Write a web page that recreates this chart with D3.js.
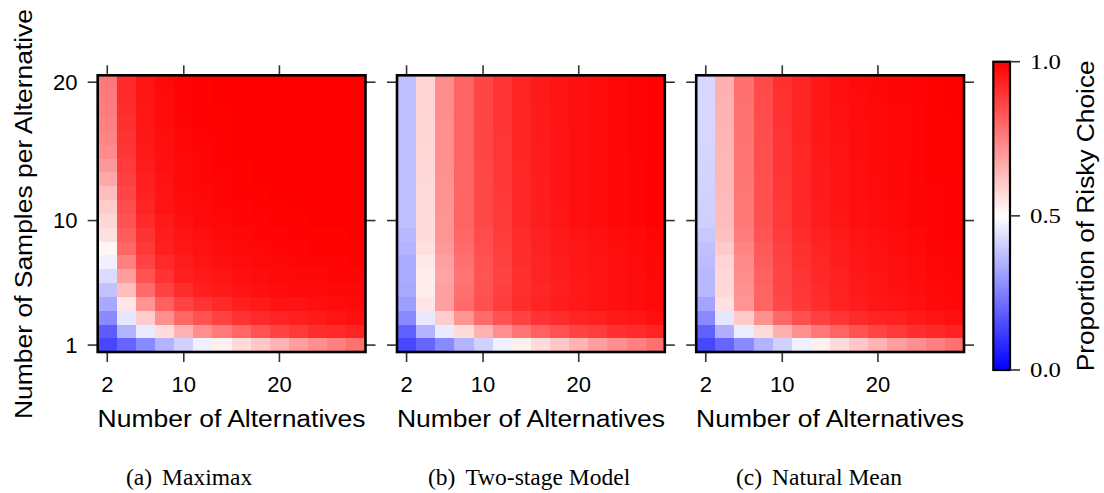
<!DOCTYPE html>
<html>
<head>
<meta charset="utf-8">
<script src="https://cdn.jsdelivr.net/npm/d3@7"></script>
<style>
  html, body { margin: 0; padding: 0; background: #fff; }
  svg { display: block; }
  .sans { font-family: "Liberation Sans", Arial, Helvetica, sans-serif; fill: #000; }
  .serif { font-family: "Liberation Serif", "Times New Roman", serif; fill: #000; }
</style>
</head>
<body>
<svg id="chart" width="1104" height="493"></svg>
<script>
// ---------------- data ----------------
const alternatives = [2, 4, 6, 8, 10, 12, 14, 16, 18, 20, 22, 24, 26, 28];
const samples = [1, 2, 3, 4, 5, 6, 7, 8, 9, 10, 11, 12, 13, 14, 15, 16, 17, 18, 19, 20];
const xTicks = [2, 10, 20];
const yTicks = [1, 10, 20];
const colorTicks = [0.0, 0.5, 1.0];
const colorTickLabels = ["0.0", "0.5", "1.0"];
const captionTags = ["(a)", "(b)", "(c)"];
const captionNames = ["Maximax", "Two-stage Model", "Natural Mean"];
const xTitle = "Number of Alternatives";
const yTitle = "Number of Samples per Alternative";
const colorTitle = "Proportion of Risky Choice";

// rows: samples 1..20 ; columns: alternatives 2..28
const maximax = [
  [0.14, 0.20, 0.27, 0.35, 0.41, 0.47, 0.53, 0.57, 0.61, 0.65, 0.69, 0.72, 0.75, 0.78],
  [0.18, 0.35, 0.46, 0.57, 0.65, 0.72, 0.76, 0.80, 0.84, 0.87, 0.89, 0.91, 0.92, 0.93],
  [0.27, 0.45, 0.60, 0.72, 0.80, 0.84, 0.87, 0.90, 0.92, 0.93, 0.94, 0.95, 0.96, 0.97],
  [0.33, 0.55, 0.71, 0.81, 0.87, 0.90, 0.92, 0.94, 0.95, 0.96, 0.965, 0.97, 0.975, 0.98],
  [0.38, 0.63, 0.79, 0.87, 0.91, 0.94, 0.95, 0.96, 0.97, 0.975, 0.98, 0.98, 0.985, 0.985],
  [0.43, 0.69, 0.84, 0.90, 0.94, 0.95, 0.96, 0.97, 0.975, 0.98, 0.985, 0.985, 0.99, 0.99],
  [0.47, 0.75, 0.87, 0.92, 0.945, 0.96, 0.97, 0.975, 0.98, 0.985, 0.99, 0.99, 0.99, 0.995],
  [0.52, 0.80, 0.89, 0.94, 0.955, 0.965, 0.975, 0.98, 0.985, 0.99, 0.99, 0.995, 0.995, 0.995],
  [0.56, 0.82, 0.90, 0.945, 0.96, 0.97, 0.98, 0.985, 0.99, 0.99, 0.995, 0.995, 0.995, 1.0],
  [0.58, 0.84, 0.92, 0.95, 0.97, 0.98, 0.985, 0.99, 0.99, 0.995, 0.995, 1.0, 1.0, 1.0],
  [0.60, 0.85, 0.93, 0.96, 0.975, 0.98, 0.99, 0.99, 0.995, 0.995, 1.0, 1.0, 1.0, 1.0],
  [0.63, 0.865, 0.935, 0.962, 0.978, 0.985, 0.99, 0.995, 0.995, 1.0, 1.0, 1.0, 1.0, 1.0],
  [0.67, 0.875, 0.94, 0.965, 0.98, 0.988, 0.992, 0.995, 1.0, 1.0, 1.0, 1.0, 1.0, 1.0],
  [0.70, 0.885, 0.945, 0.968, 0.982, 0.99, 0.994, 0.997, 1.0, 1.0, 1.0, 1.0, 1.0, 1.0],
  [0.725, 0.895, 0.95, 0.97, 0.985, 0.99, 0.995, 1.0, 1.0, 1.0, 1.0, 1.0, 1.0, 1.0],
  [0.74, 0.90, 0.953, 0.972, 0.987, 0.992, 0.996, 1.0, 1.0, 1.0, 1.0, 1.0, 1.0, 1.0],
  [0.75, 0.905, 0.955, 0.975, 0.988, 0.994, 0.997, 1.0, 1.0, 1.0, 1.0, 1.0, 1.0, 1.0],
  [0.757, 0.91, 0.957, 0.977, 0.99, 0.995, 0.998, 1.0, 1.0, 1.0, 1.0, 1.0, 1.0, 1.0],
  [0.76, 0.915, 0.959, 0.978, 0.99, 0.996, 1.0, 1.0, 1.0, 1.0, 1.0, 1.0, 1.0, 1.0],
  [0.765, 0.918, 0.961, 0.98, 0.992, 0.997, 1.0, 1.0, 1.0, 1.0, 1.0, 1.0, 1.0, 1.0]
];

const twoStage = [
  [0.14, 0.20, 0.27, 0.35, 0.41, 0.47, 0.53, 0.57, 0.61, 0.65, 0.69, 0.72, 0.75, 0.78],
  [0.19, 0.35, 0.46, 0.57, 0.65, 0.72, 0.77, 0.81, 0.84, 0.87, 0.885, 0.905, 0.917, 0.93],
  [0.27, 0.455, 0.60, 0.71, 0.79, 0.84, 0.87, 0.90, 0.914, 0.93, 0.937, 0.949, 0.957, 0.969],
  [0.31, 0.55, 0.69, 0.79, 0.845, 0.88, 0.91, 0.93, 0.945, 0.953, 0.961, 0.969, 0.976, 0.98],
  [0.33, 0.537, 0.686, 0.78, 0.84, 0.875, 0.905, 0.925, 0.94, 0.95, 0.96, 0.968, 0.975, 0.98],
  [0.337, 0.537, 0.678, 0.773, 0.835, 0.871, 0.906, 0.929, 0.941, 0.953, 0.961, 0.969, 0.976, 0.984],
  [0.337, 0.545, 0.686, 0.78, 0.84, 0.875, 0.91, 0.93, 0.945, 0.955, 0.963, 0.971, 0.978, 0.985],
  [0.35, 0.56, 0.70, 0.79, 0.845, 0.878, 0.912, 0.933, 0.947, 0.957, 0.965, 0.973, 0.98, 0.987],
  [0.36, 0.569, 0.71, 0.80, 0.85, 0.882, 0.915, 0.935, 0.95, 0.96, 0.967, 0.975, 0.982, 0.988],
  [0.376, 0.569, 0.71, 0.804, 0.859, 0.886, 0.922, 0.941, 0.957, 0.969, 0.976, 0.984, 0.99, 0.994],
  [0.376, 0.571, 0.712, 0.804, 0.86, 0.888, 0.923, 0.942, 0.957, 0.969, 0.977, 0.985, 0.99, 0.994],
  [0.377, 0.573, 0.714, 0.804, 0.86, 0.89, 0.924, 0.943, 0.958, 0.969, 0.977, 0.985, 0.991, 0.995],
  [0.377, 0.575, 0.716, 0.804, 0.861, 0.892, 0.925, 0.944, 0.958, 0.969, 0.977, 0.985, 0.991, 0.995],
  [0.378, 0.577, 0.718, 0.804, 0.861, 0.893, 0.926, 0.945, 0.959, 0.969, 0.977, 0.985, 0.991, 0.995],
  [0.378, 0.578, 0.72, 0.804, 0.862, 0.894, 0.927, 0.946, 0.959, 0.969, 0.977, 0.985, 0.992, 0.996],
  [0.378, 0.58, 0.721, 0.804, 0.862, 0.895, 0.927, 0.947, 0.959, 0.969, 0.977, 0.985, 0.992, 0.996],
  [0.378, 0.581, 0.722, 0.804, 0.862, 0.896, 0.928, 0.948, 0.96, 0.969, 0.977, 0.985, 0.992, 0.996],
  [0.377, 0.582, 0.723, 0.804, 0.863, 0.897, 0.928, 0.948, 0.96, 0.969, 0.977, 0.985, 0.992, 0.996],
  [0.377, 0.583, 0.724, 0.804, 0.863, 0.898, 0.929, 0.949, 0.96, 0.969, 0.977, 0.985, 0.992, 0.996],
  [0.376, 0.584, 0.725, 0.804, 0.863, 0.898, 0.929, 0.949, 0.96, 0.969, 0.977, 0.984, 0.992, 0.996]
];

const naturalMean = [
  [0.14, 0.20, 0.27, 0.35, 0.41, 0.47, 0.53, 0.57, 0.61, 0.65, 0.69, 0.72, 0.75, 0.78],
  [0.188, 0.345, 0.463, 0.573, 0.655, 0.718, 0.765, 0.804, 0.839, 0.867, 0.89, 0.91, 0.922, 0.933],
  [0.267, 0.451, 0.604, 0.718, 0.796, 0.843, 0.875, 0.898, 0.918, 0.929, 0.937, 0.949, 0.961, 0.969],
  [0.322, 0.561, 0.71, 0.804, 0.859, 0.89, 0.914, 0.93, 0.945, 0.955, 0.963, 0.971, 0.978, 0.984],
  [0.36, 0.576, 0.718, 0.804, 0.863, 0.894, 0.918, 0.935, 0.95, 0.96, 0.967, 0.975, 0.982, 0.986],
  [0.361, 0.576, 0.725, 0.812, 0.867, 0.898, 0.922, 0.937, 0.953, 0.961, 0.969, 0.976, 0.984, 0.988],
  [0.369, 0.584, 0.729, 0.82, 0.871, 0.902, 0.926, 0.941, 0.955, 0.965, 0.972, 0.979, 0.986, 0.99],
  [0.376, 0.604, 0.741, 0.827, 0.875, 0.906, 0.93, 0.945, 0.958, 0.967, 0.975, 0.982, 0.988, 0.992],
  [0.392, 0.624, 0.757, 0.835, 0.882, 0.914, 0.935, 0.95, 0.962, 0.971, 0.978, 0.985, 0.99, 0.994],
  [0.408, 0.631, 0.765, 0.843, 0.89, 0.922, 0.945, 0.957, 0.969, 0.976, 0.982, 0.988, 0.992, 0.996],
  [0.41, 0.634, 0.767, 0.844, 0.891, 0.923, 0.946, 0.958, 0.97, 0.977, 0.983, 0.989, 0.993, 0.996],
  [0.412, 0.637, 0.769, 0.845, 0.893, 0.924, 0.947, 0.959, 0.971, 0.978, 0.984, 0.989, 0.993, 0.997],
  [0.414, 0.64, 0.77, 0.846, 0.894, 0.924, 0.948, 0.961, 0.972, 0.979, 0.985, 0.99, 0.994, 0.997],
  [0.416, 0.642, 0.772, 0.847, 0.896, 0.925, 0.95, 0.962, 0.973, 0.98, 0.985, 0.99, 0.994, 0.998],
  [0.417, 0.644, 0.773, 0.848, 0.897, 0.926, 0.951, 0.963, 0.975, 0.981, 0.986, 0.99, 0.995, 0.998],
  [0.419, 0.646, 0.775, 0.849, 0.899, 0.927, 0.952, 0.965, 0.976, 0.982, 0.986, 0.991, 0.995, 0.999],
  [0.42, 0.648, 0.776, 0.851, 0.9, 0.927, 0.953, 0.966, 0.977, 0.982, 0.987, 0.991, 0.995, 0.999],
  [0.421, 0.65, 0.777, 0.852, 0.902, 0.928, 0.954, 0.967, 0.978, 0.983, 0.987, 0.991, 0.996, 1.0],
  [0.423, 0.653, 0.779, 0.853, 0.904, 0.928, 0.955, 0.968, 0.979, 0.984, 0.988, 0.992, 0.996, 1.0],
  [0.424, 0.655, 0.78, 0.855, 0.906, 0.929, 0.957, 0.969, 0.98, 0.984, 0.988, 0.992, 0.996, 1.0]
];

const panels = [maximax, twoStage, naturalMean];

// ---------------- layout ----------------
const svg = d3.select("#chart");
const panelLeft = [97.7, 397.0, 696.2];
const panelW = 267.8;
const panelTop = 75.3, panelBottom = 352.0;
const tickLen = 10;
const captionStart = [126, 428, 736];

const color = d3.scaleLinear().domain([0, 0.5, 1]).range(["#0000ff", "#ffffff", "#ff0000"]);
const y = d3.scaleLinear().domain([0.5, 20.5]).range([panelBottom, panelTop]);

panels.forEach((mat, p) => {
  const x = d3.scaleLinear().domain([1, 29]).range([panelLeft[p], panelLeft[p] + panelW]);
  const g = svg.append("g");

  const cells = [];
  mat.forEach((row, ri) => row.forEach((v, ci) => cells.push({s: samples[ri], a: alternatives[ci], v})));
  g.append("g").selectAll("rect").data(cells).join("rect")
    .attr("x", d => x(d.a - 1))
    .attr("width", d => x(d.a + 1) - x(d.a - 1) + 0.3)
    .attr("y", d => y(d.s + 0.5))
    .attr("height", d => y(d.s - 0.5) - y(d.s + 0.5) + 0.3)
    .attr("fill", d => color(d.v))
    .attr("shape-rendering", "crispEdges");

  // ticks on all four sides (outward)
  const tg = g.append("g").attr("stroke", "#333").attr("stroke-width", 1.6);
  xTicks.forEach(t => {
    tg.append("line").attr("x1", x(t)).attr("x2", x(t)).attr("y1", panelBottom).attr("y2", panelBottom + tickLen);
    tg.append("line").attr("x1", x(t)).attr("x2", x(t)).attr("y1", panelTop).attr("y2", panelTop - tickLen);
  });
  yTicks.forEach(t => {
    tg.append("line").attr("x1", panelLeft[p]).attr("x2", panelLeft[p] - tickLen).attr("y1", y(t)).attr("y2", y(t));
    tg.append("line").attr("x1", panelLeft[p] + panelW).attr("x2", panelLeft[p] + panelW + tickLen).attr("y1", y(t)).attr("y2", y(t));
  });

  // border
  g.append("rect")
    .attr("x", panelLeft[p]).attr("y", panelTop)
    .attr("width", panelW).attr("height", panelBottom - panelTop)
    .attr("fill", "none").attr("stroke", "#000").attr("stroke-width", 2.6);

  // x tick labels
  g.selectAll("text.xt").data(xTicks).join("text")
    .attr("class", "sans xt")
    .attr("x", d => x(d)).attr("y", 391.5)
    .attr("text-anchor", "middle")
    .style("font-size", "22px")
    .text(d => d);

  // x title
  g.append("text").attr("class", "sans")
    .attr("x", panelLeft[p] + panelW / 2).attr("y", 426.7)
    .attr("text-anchor", "middle")
    .attr("textLength", 268).attr("lengthAdjust", "spacingAndGlyphs")
    .style("font-size", "23.5px")
    .text(xTitle);

  // caption
  const cap = g.append("text").attr("class", "serif")
    .attr("x", captionStart[p]).attr("y", 484.5)
    .style("font-size", "23.5px");
  cap.append("tspan").text(captionTags[p]);
  cap.append("tspan").attr("dx", 10).text(captionNames[p]);

  if (p === 0) {
    g.selectAll("text.yt").data(yTicks).join("text")
      .attr("class", "sans yt")
      .attr("x", 77.5).attr("y", d => y(d))
      .attr("dy", "0.36em")
      .attr("text-anchor", "end")
      .style("font-size", "22px")
      .text(d => d);
    g.append("text").attr("class", "sans")
      .attr("transform", "translate(32,214) rotate(-90)")
      .attr("text-anchor", "middle")
      .attr("textLength", 410).attr("lengthAdjust", "spacingAndGlyphs")
      .style("font-size", "23.5px")
      .text(yTitle);
  }
});

// ---------------- colour bar ----------------
const cbX = 993.3, cbW = 16.7, cbTop = 61.7, cbBottom = 370;
const cy = d3.scaleLinear().domain([0, 1]).range([cbBottom, cbTop]);
const defs = svg.append("defs");
const grad = defs.append("linearGradient").attr("id", "cbgrad")
  .attr("x1", 0).attr("y1", 1).attr("x2", 0).attr("y2", 0);
grad.selectAll("stop").data(d3.range(0, 1.0001, 0.05)).join("stop")
  .attr("offset", d => d)
  .attr("stop-color", d => color(d));
svg.append("rect")
  .attr("x", cbX).attr("y", cbTop).attr("width", cbW).attr("height", cbBottom - cbTop)
  .attr("fill", "url(#cbgrad)")
  .attr("stroke", "#000").attr("stroke-width", 2.2);
colorTicks.forEach((t, i) => {
  svg.append("line")
    .attr("x1", cbX + cbW).attr("x2", cbX + cbW + 10)
    .attr("y1", cy(t)).attr("y2", cy(t))
    .attr("stroke", "#333").attr("stroke-width", 1.6);
  svg.append("text").attr("class", "serif")
    .attr("x", 1030).attr("y", cy(t)).attr("dy", "0.34em")
    .attr("textLength", 31).attr("lengthAdjust", "spacingAndGlyphs")
    .style("font-size", "20px")
    .text(colorTickLabels[i]);
});
svg.append("text").attr("class", "sans")
  .attr("transform", `translate(1093.5,${(cbTop + cbBottom) / 2}) rotate(-90)`)
  .attr("text-anchor", "middle")
  .attr("textLength", 311).attr("lengthAdjust", "spacingAndGlyphs")
  .style("font-size", "23px")
  .text(colorTitle);
</script>
</body>
</html>
